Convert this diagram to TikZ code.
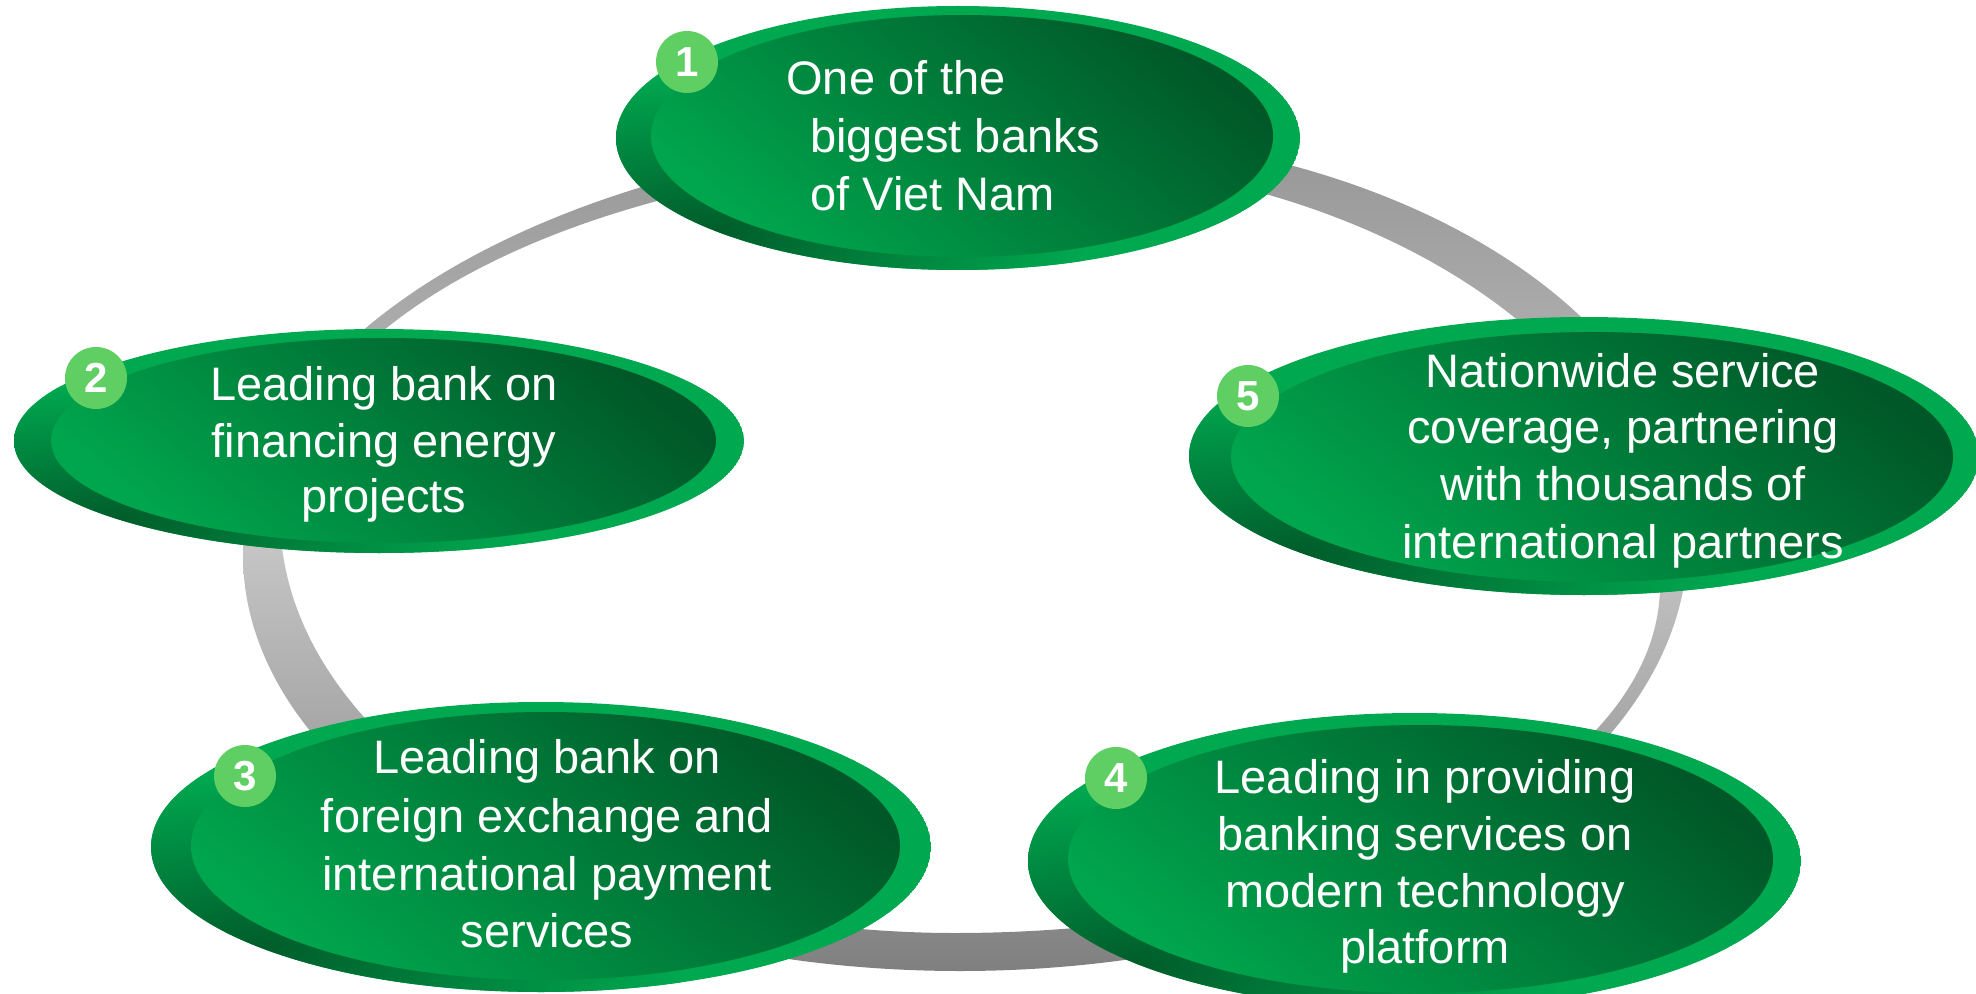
\documentclass[tikz,border=0pt]{standalone}
\usepackage{fontspec}
\setmainfont{Liberation Sans}
\definecolor{rimlight}{RGB}{0,168,80}
\definecolor{rimdark}{RGB}{0,92,42}
\definecolor{facedark}{RGB}{0,88,40}
\definecolor{facelight}{RGB}{0,166,78}
\definecolor{badgegreen}{RGB}{95,207,100}
\definecolor{ringtop}{RGB}{150,150,150}
\definecolor{ringmid}{RGB}{196,196,196}
\definecolor{ringbot}{RGB}{128,128,128}
\tikzset{
  rimglow/.style={inner color=rimdark, outer color=rimlight},
  face/.style={top color=facedark, bottom color=facelight, shading angle=-40},
  badgecirc/.style={circle, fill=badgegreen, minimum size=31pt, inner sep=0pt, text=white,
    font=\fontsize{21}{21}\selectfont\bfseries},
  txt/.style={text=white, font=\fontsize{23.5}{28}\selectfont, inner sep=0pt},
  ringband/.style={even odd rule, top color=ringtop, bottom color=ringbot, middle color=ringmid},
}
\newcommand\greenell[9]{%
  \begin{scope}
    \clip (#2,#3) ellipse [x radius=#4, y radius=#5];
    \fill[rimlight] (#2,#3) ellipse [x radius=#4, y radius=#5];
    \shade[rimglow] (#2-0.72*#4, #3-0.7*#5) ellipse [x radius=1.1*#4, y radius=1.2*#5];
  \end{scope}
  \shade[face] (#6,#7) ellipse [x radius=#8, y radius=#9];
  \coordinate (#1) at (#6,#7);}
\begin{document}
\begin{tikzpicture}[x=0.5pt, y=0.5pt]
\useasboundingbox (0,0) rectangle (1976,993);
% ring: outer and inner edges, each made of four quarter-ellipses
\coordinate (ringOL) at (243,438);
\coordinate (ringIL) at (280,478);
\shade[ringband]
  (ringOL) arc[start angle=180, end angle=90, x radius=787, y radius=423]
           arc[start angle=90, end angle=0, x radius=658, y radius=408]
           arc[start angle=0, end angle=-90, x radius=728, y radius=431]
           arc[start angle=-90, end angle=-180, x radius=717, y radius=416] -- cycle
  (ringIL) arc[start angle=180, end angle=90, x radius=720, y radius=357]
           arc[start angle=90, end angle=0, x radius=660, y radius=427]
           arc[start angle=0, end angle=-90, x radius=705, y radius=348]
           arc[start angle=-90, end angle=-180, x radius=675, y radius=418] -- cycle;
% ellipses
\greenell{e1}{958}{855}{342}{132}{962}{857}{311}{121}
\greenell{e2}{379}{552}{365}{112}{383.5}{552.5}{332.5}{102.5}
\greenell{e5}{1584}{537}{395}{139}{1592}{536}{361}{125}
\greenell{e3}{541}{146}{390}{145}{545.5}{147}{354.5}{134}
\greenell{e4}{1414.5}{132}{386.5}{148}{1420.5}{134}{352.5}{134}
% badges
\node[badgecirc] (b1) at (687,931) {1};
\node[badgecirc] (b2) at (96,615) {2};
\node[badgecirc] (b3) at (245,217) {3};
\node[badgecirc] (b4) at (1116,215) {4};
\node[badgecirc] (b5) at (1248,597) {5};
% texts
\node[txt, anchor=base west] (t1a) at (786,898) {One of the};
\node[txt, anchor=base west] (t1b) at (810,840) {biggest banks};
\node[txt, anchor=base west] (t1c) at (810,783) {of Viet Nam};
\node[txt, anchor=base] (t2a) at (384,593) {Leading bank on};
\node[txt, anchor=base] (t2b) at (384,536) {financing energy};
\node[txt, anchor=base] (t2c) at (384,481) {projects};
\node[txt, anchor=base] (t5a) at (1623,606) {Nationwide service};
\node[txt, anchor=base] (t5b) at (1623,550) {coverage, partnering};
\node[txt, anchor=base] (t5c) at (1623,493) {with thousands of};
\node[txt, anchor=base] (t5d) at (1623,435) {international partners};
\node[txt, anchor=base] (t3a) at (547,220) {Leading bank on};
\node[txt, anchor=base] (t3b) at (547,161) {foreign exchange and};
\node[txt, anchor=base] (t3c) at (547,103) {international payment};
\node[txt, anchor=base] (t3d) at (547,46) {services};
\node[txt, anchor=base] (t4a) at (1425,200) {Leading in providing};
\node[txt, anchor=base] (t4b) at (1425,143) {banking services on};
\node[txt, anchor=base] (t4c) at (1425,86) {modern technology};
\node[txt, anchor=base] (t4d) at (1425,30) {platform};
\end{tikzpicture}
\end{document}
